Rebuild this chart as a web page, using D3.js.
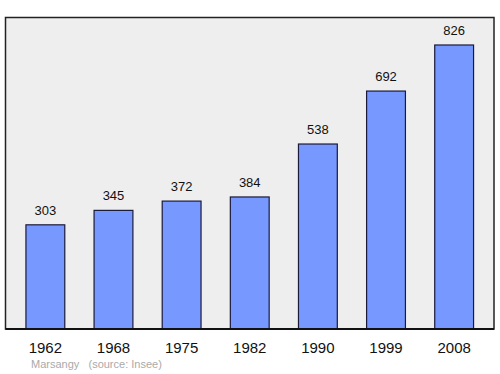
<!DOCTYPE html>
<html lang="en">
<head>
    <meta charset="UTF-8">
    <title>Population - Marsangy</title>
    <script src="https://d3js.org/d3.v7.min.js"></script>
    <style>
        body { margin: 0; background: #fff; }
    </style>
</head>
<body>
    <svg width="500" height="374"></svg>
    <script>
        // Data
        const years = ["1962", "1968", "1975", "1982", "1990", "1999", "2008"];
        const population = [303, 345, 372, 384, 538, 692, 826];

        const width = 500;
        const height = 374;
        const plot = { left: 5.5, top: 17.5, right: 494, bottom: 329 };

        const svg = d3.select("svg")
            .attr("width", width)
            .attr("height", height);

        const x = d3.scaleBand()
            .domain(years)
            .range([plot.left, plot.right])
            .paddingInner(0.43)
            .paddingOuter(0.3);

        const y = d3.scaleLinear()
            .domain([0, 826])
            .range([plot.bottom, 45]);

        // Plot background
        svg.append("rect")
            .attr("x", plot.left)
            .attr("y", plot.top)
            .attr("width", plot.right - plot.left)
            .attr("height", plot.bottom - plot.top)
            .attr("fill", "#eeeeee")
            .attr("stroke", "#222")
            .attr("stroke-width", 1.5);

        // Bars
        svg.selectAll("rect.bar")
            .data(population)
            .enter().append("rect")
            .attr("class", "bar")
            .attr("x", (d, i) => x(years[i]))
            .attr("y", d => y(d))
            .attr("width", x.bandwidth())
            .attr("height", d => plot.bottom - y(d))
            .attr("fill", "#7799ff")
            .attr("stroke", "#1a1a3a")
            .attr("stroke-width", 1.2);

        // Value labels
        svg.selectAll("text.value")
            .data(population)
            .enter().append("text")
            .attr("class", "value")
            .attr("x", (d, i) => x(years[i]) + x.bandwidth() / 2)
            .attr("y", d => y(d) - 10)
            .attr("text-anchor", "middle")
            .attr("font-family", "Liberation Sans, Arial, sans-serif")
            .attr("font-size", 13)
            .attr("fill", "#111")
            .text(d => d);

        // Bottom axis line
        svg.append("line")
            .attr("x1", plot.left)
            .attr("x2", plot.right)
            .attr("y1", plot.bottom)
            .attr("y2", plot.bottom)
            .attr("stroke", "#111")
            .attr("stroke-width", 2);

        // Year labels
        svg.selectAll("text.year")
            .data(years)
            .enter().append("text")
            .attr("class", "year")
            .attr("x", d => x(d) + x.bandwidth() / 2)
            .attr("y", 353)
            .attr("text-anchor", "middle")
            .attr("font-family", "Liberation Sans, Arial, sans-serif")
            .attr("font-size", 15)
            .attr("fill", "#111")
            .text(d => d);

        // Footer
        svg.append("text")
            .attr("x", 31)
            .attr("y", 368)
            .attr("font-family", "Liberation Sans, Arial, sans-serif")
            .attr("font-size", 11)
            .attr("fill", "#aaa")
            .attr("xml:space", "preserve")
            .text("Marsangy   (source: Insee)");
    </script>
</body>
</html>
